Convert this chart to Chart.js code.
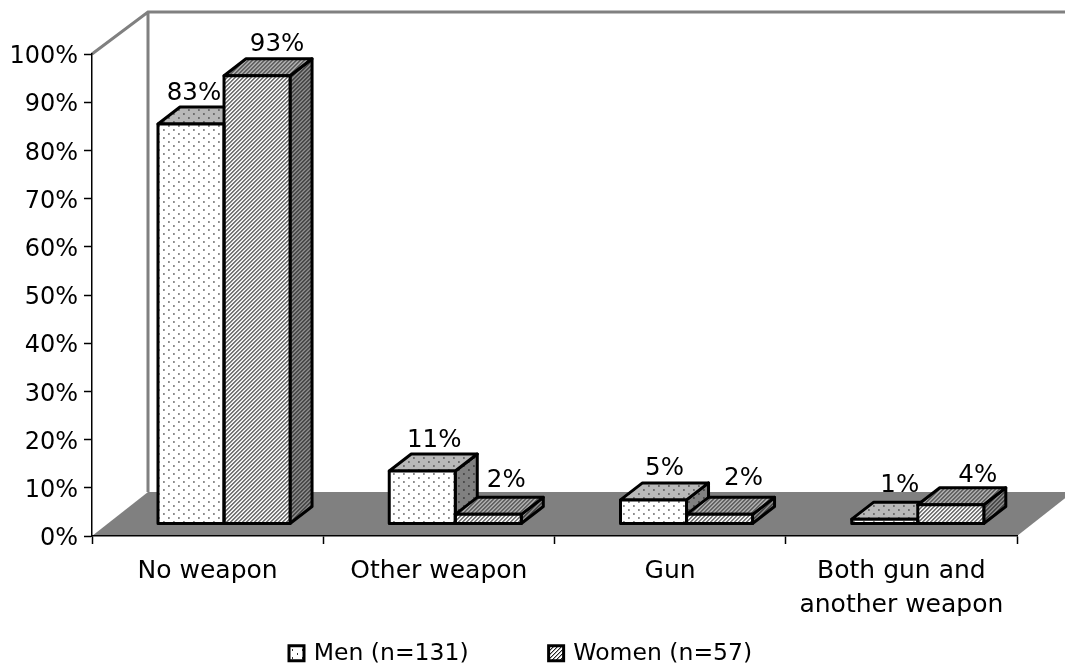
<!DOCTYPE html>
<html>
<head>
<meta charset="utf-8">
<style>
  html, body { margin: 0; padding: 0; background: #fff; }
  canvas { display: block; }
</style>
<script src="https://cdn.jsdelivr.net/npm/chart.js@4"></script>
</head>
<body>
<canvas id="chart" width="1065" height="669"></canvas>
<script>
const categories = ['No weapon', 'Other weapon', 'Gun', ['Both gun and', 'another weapon']];
const yTickLabels = ['0%', '10%', '20%', '30%', '40%', '50%', '60%', '70%', '80%', '90%', '100%'];
const menValues = [83, 11, 5, 1];
const womenValues = [93, 2, 2, 4];
const seriesNames = ['Men (n=131)', 'Women (n=57)'];

const FONT = '"DejaVu Sans", sans-serif';

// Build a repeating fill like the old Excel pattern fills.
function dotPattern(bg, fg) {
  const c = document.createElement('canvas');
  c.width = 10; c.height = 8;
  const g = c.getContext('2d');
  g.fillStyle = bg; g.fillRect(0, 0, 10, 8);
  g.fillStyle = fg;
  g.fillRect(2, 1, 1, 2);
  g.fillRect(7, 5, 1, 2);
  return g.createPattern(c, 'repeat');
}
function stripePattern(bg, fg, soft) {
  const c = document.createElement('canvas');
  c.width = 4; c.height = 4;
  const g = c.getContext('2d');
  g.fillStyle = bg; g.fillRect(0, 0, 4, 4);
  for (let i = 0; i < 4; i++) {
    g.fillStyle = fg;
    g.fillRect(3 - i, i, 1, 1);
    g.fillStyle = soft;
    g.fillRect((4 - i) % 4, i, 1, 1);
  }
  return g.createPattern(c, 'repeat');
}

const faces = [
  { front: dotPattern('#ffffff', '#333333'), top: dotPattern('#b8b8b8', '#333333'), side: dotPattern('#808080', '#222222') },
  { front: stripePattern('#ffffff', '#222222', '#aaaaaa'), top: stripePattern('#b0b0b0', '#333333', '#808080'), side: stripePattern('#8c8c8c', '#222222', '#606060') }
];

// Depth of the bars and of the chart box, in pixels.
const BAR_DX = 22, BAR_DY = 17;
const BOX_DX = 56, BOX_DY = 44;
// Where the bars sit on the floor relative to the axes.
const FLOOR_DX = 16.4, FLOOR_DY = 12;
// Excel put the value labels a bit unevenly, so these are per label.
const labelNudgeX = [[3, 12, 11, 15], [20, 18, 24, 27]];
const labelNudgeY = [[7, 7, 8, 10], [8, 10, 12, 6]];

function poly(ctx, pts, fill) {
  ctx.beginPath();
  pts.forEach((p, i) => i ? ctx.lineTo(p[0], p[1]) : ctx.moveTo(p[0], p[1]));
  ctx.closePath();
  ctx.fillStyle = fill;
  ctx.fill();
  ctx.stroke();
}

const boxPlugin = {
  id: 'box3d',
  beforeDraw(chart) {
    const ctx = chart.ctx;
    const a = chart.chartArea;
    ctx.save();
    // floor
    ctx.fillStyle = '#808080';
    ctx.beginPath();
    ctx.moveTo(a.left, a.bottom);
    ctx.lineTo(a.left + BOX_DX, a.bottom - BOX_DY);
    ctx.lineTo(a.right + BOX_DX, a.bottom - BOX_DY);
    ctx.lineTo(a.right, a.bottom);
    ctx.closePath();
    ctx.fill();
    // back wall
    ctx.strokeStyle = '#808080';
    ctx.lineWidth = 3;
    ctx.beginPath();
    ctx.moveTo(a.left, a.top);
    ctx.lineTo(a.left + BOX_DX, a.top - 42);
    ctx.lineTo(chart.width, a.top - 42);
    ctx.moveTo(a.left + BOX_DX, a.top - 42);
    ctx.lineTo(a.left + BOX_DX, a.bottom - BOX_DY);
    ctx.stroke();
    ctx.restore();
  },
  beforeDatasetsDraw(chart) {
    const ctx = chart.ctx;
    ctx.save();
    ctx.translate(FLOOR_DX, -FLOOR_DY);
    ctx.strokeStyle = '#000';
    ctx.lineWidth = 3;
    ctx.lineJoin = 'round';
    chart.data.datasets.forEach((ds, d) => {
      chart.getDatasetMeta(d).data.forEach(bar => {
        const l = bar.x - bar.width / 2, r = bar.x + bar.width / 2;
        poly(ctx, [[r, bar.y], [r + BAR_DX, bar.y - BAR_DY], [r + BAR_DX, bar.base - BAR_DY], [r, bar.base]], faces[d].side);
        poly(ctx, [[l, bar.y], [l + BAR_DX, bar.y - BAR_DY], [r + BAR_DX, bar.y - BAR_DY], [r, bar.y]], faces[d].top);
      });
    });
  },
  afterDatasetsDraw(chart) {
    const ctx = chart.ctx;
    ctx.strokeStyle = '#000';
    ctx.lineWidth = 3;
    chart.data.datasets.forEach((ds, d) => {
      chart.getDatasetMeta(d).data.forEach(bar => {
        ctx.strokeRect(bar.x - bar.width / 2, bar.y, bar.width, bar.base - bar.y);
      });
    });
    ctx.restore();

    // value labels
    ctx.save();
    ctx.fillStyle = '#000';
    ctx.font = '24.5px ' + FONT;
    ctx.textAlign = 'center';
    ctx.textBaseline = 'alphabetic';
    chart.data.datasets.forEach((ds, d) => {
      chart.getDatasetMeta(d).data.forEach((bar, i) => {
        const x = bar.x + FLOOR_DX + labelNudgeX[d][i];
        const y = bar.y - FLOOR_DY - BAR_DY - labelNudgeY[d][i];
        ctx.fillText(ds.data[i] + '%', x, y);
      });
    });
    ctx.restore();
  },
  afterUpdate(chart) {
    // the legend padding also sets the item gap, so put the box back where it belongs
    // (bottom stays put, the legend clips its text to its own box)
    const legend = chart.legend;
    const hits = legend.legendHitBoxes;
    const dx = 288 - hits[0].left;
    const dy = 642 - hits[0].top;
    legend.left += dx;
    legend.right += dx;
    legend.top += dy;
    hits.forEach(hit => { hit.left += dx; hit.top += dy; });
  },
  afterDraw(chart) {
    // legend swatches, the built-in ones leave too wide a gap to the text
    const ctx = chart.ctx;
    ctx.save();
    ctx.strokeStyle = '#000';
    ctx.lineWidth = 3;
    chart.legend.legendHitBoxes.forEach((hit, i) => {
      const y = hit.top + hit.height / 2 - 8;
      ctx.fillStyle = faces[i].front;
      ctx.fillRect(hit.left + 1, y, 15, 15);
      ctx.strokeRect(hit.left + 1, y, 15, 15);
    });
    ctx.restore();
  }
};

new Chart(document.getElementById('chart'), {
  type: 'bar',
  data: {
    labels: categories,
    datasets: [
      { label: seriesNames[0], data: menValues, backgroundColor: faces[0].front, borderWidth: 0 },
      { label: seriesNames[1], data: womenValues, backgroundColor: faces[1].front, borderWidth: 0 }
    ]
  },
  options: {
    responsive: false,
    animation: false,
    devicePixelRatio: 1,
    layout: { padding: { top: 54, right: 48, bottom: 3, left: 0 } },
    datasets: { bar: { barPercentage: 1, categoryPercentage: 0.571 } },
    plugins: {
      tooltip: { enabled: false },
      legend: {
        position: 'bottom',
        maxHeight: 50,
        labels: {
          boxWidth: 14,
          boxHeight: 14,
          padding: 79,
          color: '#000',
          font: { family: FONT, size: 23.5 },
          generateLabels(chart) {
            return chart.data.datasets.map((ds, i) => ({
              text: ds.label,
              datasetIndex: i,
              fillStyle: 'rgba(0,0,0,0)',
              strokeStyle: 'rgba(0,0,0,0)',
              lineWidth: 0,
              fontColor: '#000'
            }));
          }
        }
      }
    },
    scales: {
      x: {
        border: { color: '#000', width: 1.5 },
        grid: { drawOnChartArea: false, tickLength: 8, tickColor: '#000', tickWidth: 1.5 },
        ticks: { color: '#000', padding: 10, maxRotation: 0, autoSkip: false, font: { family: FONT, size: 25, lineHeight: 1.36 } },
        afterFit(scale) { scale.height = 80; }
      },
      y: {
        min: 0,
        max: 100,
        border: { color: '#000', width: 1.5 },
        grid: { drawOnChartArea: false, tickLength: 8, tickColor: '#000', tickWidth: 1.5 },
        ticks: {
          color: '#000',
          padding: 6,
          stepSize: 10,
          labelOffset: 3,
          font: { family: FONT, size: 24 },
          callback: (v, i) => yTickLabels[i]
        },
        afterFit(scale) { scale.width = 92; }
      }
    }
  },
  plugins: [boxPlugin]
});
</script>
</body>
</html>
